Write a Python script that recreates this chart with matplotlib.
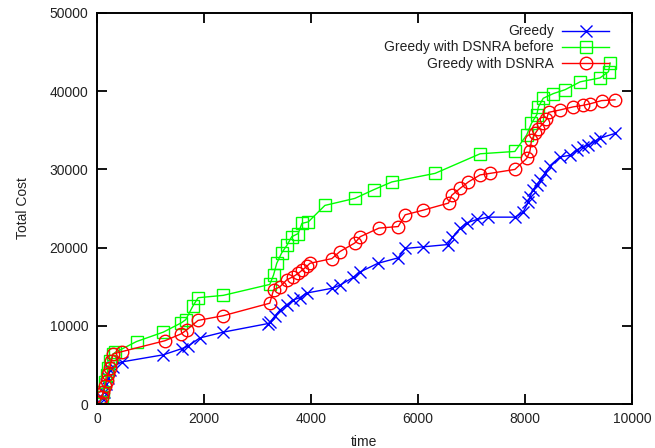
import matplotlib
matplotlib.use('Agg')
import matplotlib.pyplot as plt

plt.rcParams['font.family'] = ['Liberation Sans', 'DejaVu Sans']

# --- data ---
greedy_t = [50, 100, 130, 160, 200, 250, 300, 470, 1240, 1590, 1700, 1920, 2360,
            3200, 3240, 3330, 3420, 3550, 3660, 3790, 3920, 4390, 4540, 4790, 4920,
            5250, 5630, 5760, 6090, 6560, 6640, 6790, 6920, 7100, 7310, 7810, 7960,
            8060, 8090, 8150, 8220, 8280, 8370, 8470, 8650, 8840, 8970, 9080, 9180,
            9300, 9400, 9680]
greedy_v = [200, 800, 1600, 2600, 3400, 4300, 4800, 5400, 6300, 7100, 7400, 8450, 9200,
            10300, 10500, 11300, 12000, 12700, 13300, 13600, 14200, 14800, 15200, 16200, 16900,
            18000, 18700, 19900, 20100, 20400, 21300, 22500, 23200, 23600, 23900, 23900, 24500,
            25800, 26500, 27400, 28000, 28600, 29500, 30500, 31600, 31800, 32500, 32900, 33100,
            33600, 34000, 34600]

before_t = [60, 100, 120, 150, 180, 210, 250, 300, 340, 740, 1240, 1580, 1660, 1790,
            1890, 2360, 3230, 3300, 3360, 3450, 3550, 3640, 3760, 3830, 3950, 4260,
            4820, 5170, 5510, 6320, 7160, 7810, 8030, 8120, 8220, 8250, 8340, 8530,
            8750, 9030, 9400, 9560, 9590]
before_v = [300, 900, 1600, 2800, 3700, 4600, 5500, 6400, 6600, 8000, 9200, 10400, 10800, 12500,
            13600, 13900, 15300, 16500, 18000, 19300, 20300, 21400, 21800, 23100, 23300, 25400,
            26300, 27400, 28400, 29500, 32000, 32300, 34400, 35900, 37000, 38000, 39100, 39700,
            40200, 41200, 41700, 42500, 43600]

dsnra_t = [50, 90, 120, 150, 180, 210, 240, 270, 300, 460, 1270, 1580, 1680, 1890,
           2360, 3230, 3300, 3420, 3550, 3670, 3760, 3830, 3920, 3980, 4390, 4540,
           4820, 4920, 5270, 5630, 5760, 6100, 6570, 6630, 6790, 6940, 7160, 7350,
           7810, 8030, 8090, 8120, 8190, 8250, 8340, 8400, 8440, 8650, 8900, 9090,
           9220, 9430, 9680]
dsnra_v = [300, 900, 1600, 2300, 3000, 3900, 4600, 5500, 6400, 6700, 8100, 9000, 9500, 10700,
           11300, 12900, 14600, 15000, 15900, 16300, 16700, 17100, 17600, 18000, 18600, 19500,
           20600, 21400, 22500, 22700, 24200, 24800, 25700, 26700, 27600, 28400, 29300, 29500,
           30000, 31400, 32300, 33700, 34600, 35200, 35900, 36400, 37300, 37600, 38000, 38200,
           38400, 38800, 38900]

x_ticks = [0, 2000, 4000, 6000, 8000, 10000]
y_ticks = [0, 10000, 20000, 30000, 40000, 50000]

# --- figure ---
fig = plt.figure(figsize=(6.55, 4.48), dpi=100)
ax = fig.add_axes([0.148, 0.098, 0.817, 0.873])

ax.plot(greedy_t, greedy_v, color='#0000ff', lw=1.0, marker='x', ms=9, mew=1.0,
        label='Greedy')
ax.plot(before_t, before_v, color='#00ff00', lw=1.0, marker='s', ms=9, mew=1.0,
        mfc='none', label='Greedy with DSNRA before')
ax.plot(dsnra_t, dsnra_v, color='#ff0000', lw=1.0, marker='o', ms=9, mew=1.0,
        mfc='none', label='Greedy with DSNRA')

ax.set_xlim(0, 10000)
ax.set_ylim(0, 50000)
ax.set_xticks(x_ticks)
ax.set_yticks(y_ticks)
ax.tick_params(direction='in', length=7, width=1.3, top=True, right=True,
               labelsize=10, labelcolor='#222222', pad=6)
for s in ax.spines.values():
    s.set_linewidth(1.4)

ax.set_xlabel('time', fontsize=10, color='#222222', labelpad=6)
ax.set_ylabel('Total Cost', fontsize=10, color='#222222', labelpad=14)

leg = ax.legend(loc='upper right', bbox_to_anchor=(0.968, 0.985), frameon=False,
                markerfirst=False, numpoints=1, fontsize=10, handlelength=3.4,
                handletextpad=0.6, labelspacing=0.15, borderaxespad=0)
for t in leg.get_texts():
    t.set_color('#222222')

fig.savefig('out.png', dpi=100)
